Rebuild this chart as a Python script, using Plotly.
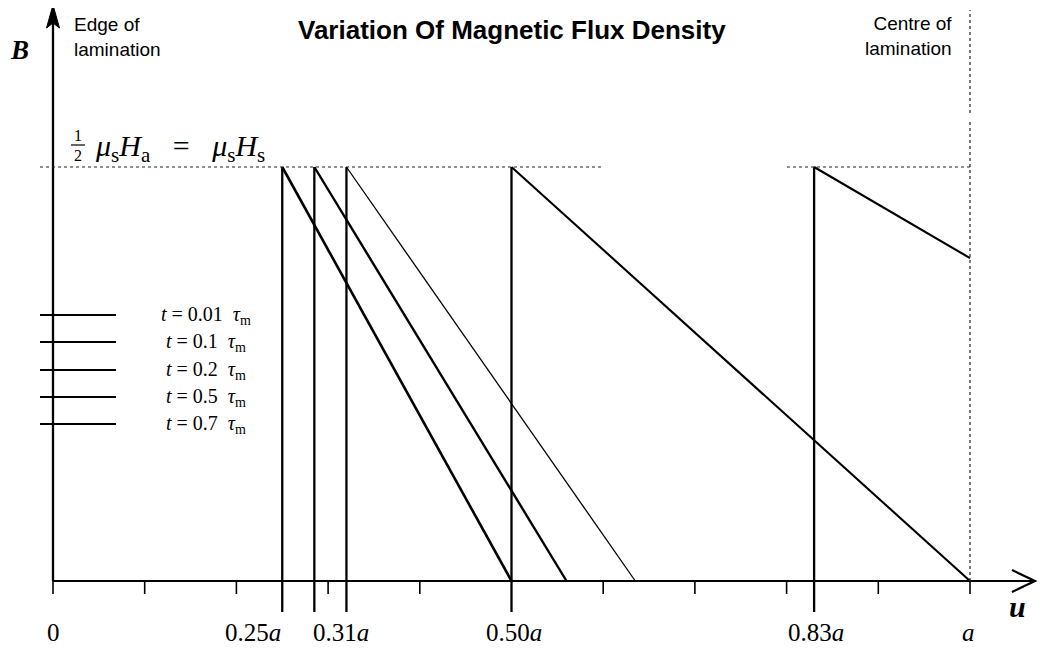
import plotly.graph_objects as go

# ---------------- data ----------------
series_labels = ["0.01", "0.1", "0.2", "0.5", "0.7"]          # t / tau_m
front_u = [0.25, 0.285, 0.32, 0.50, 0.83]                     # position of flux front (fraction of a)
end_u = [0.50, 0.56, 0.635, 1.0, 1.0]                         # where the B line ends
end_B = [0.0, 0.0, 0.0, 0.0, 0.78]                            # B at end (fraction of saturation)
tick_vals = [0, 0.25, 0.31, 0.50, 0.83, 1.0]
tick_text = ["0", "0.25<i>a</i>", "0.31<i>a</i>", "0.50<i>a</i>", "0.83<i>a</i>", "<i>a</i>"]
minor_ticks = [0.0, 0.1, 0.2, 0.3, 0.4, 0.6, 0.7, 0.8, 0.9, 1.0]

# ---------------- styling / geometry ----------------
BODY = 8                       # default page margin of the html body
W, H = 1051 - 2 * BODY, 655 - 2 * BODY
X0PX, X1PX = 53, 970           # page pixels of u=0 and u=a
Y0PX, Y1PX = 581, 167          # page pixels of B=0 and B=Bs
SX = X1PX - X0PX
SY = Y0PX - Y1PX
def ux(px):  # page pixel -> data x
    return (px - X0PX) / SX
def uy(py):  # page pixel -> data y
    return (Y0PX - py) / SY

tick_label_shift = [0, -29, 4, 2, 2, -2]
diag_width = [2.6, 2.4, 1.3, 2.1, 2.1]
serif = "Liberation Serif, Times New Roman, serif"
sans = "Liberation Sans, Arial, sans-serif"

fig = go.Figure()

# series
for i in range(len(series_labels)):
    f = front_u[i]
    fig.add_trace(go.Scatter(x=[f, f], y=[uy(612), 1.0], mode="lines",
                             line=dict(color="black", width=2.3), showlegend=False,
                             hoverinfo="skip"))
    fig.add_trace(go.Scatter(x=[f, end_u[i]], y=[1.0, end_B[i]], mode="lines",
                             line=dict(color="black", width=diag_width[i]),
                             name="t = " + series_labels[i], showlegend=False))

# legend samples
legend_y_px = [315, 342, 370, 397, 424]
for i, lab in enumerate(series_labels):
    yy = uy(legend_y_px[i])
    fig.add_trace(go.Scatter(x=[ux(40), ux(116)], y=[yy, yy], mode="lines",
                             line=dict(color="black", width=1.8), showlegend=False,
                             hoverinfo="skip"))
    fig.add_annotation(x=ux(206), y=yy, xref="x", yref="y", xanchor="center", yanchor="middle",
                       text="<i>t</i> = " + lab + "&nbsp; <i>τ</i><sub>m</sub>", showarrow=False,
                       font=dict(family=serif, size=20, color="black"))

shapes = []
# axes
shapes.append(dict(type="line", x0=0, y0=0, x1=0, y1=uy(20), line=dict(color="black", width=2.3)))
shapes.append(dict(type="path",
                   path=f"M {ux(53)} {uy(5)} L {ux(46.5)} {uy(28)} L {ux(53)} {uy(23)} L {ux(59.5)} {uy(28)} Z",
                   fillcolor="black", line=dict(color="black", width=1)))
shapes.append(dict(type="line", x0=0, y0=0, x1=ux(1034), y1=0, line=dict(color="black", width=2.2)))
shapes.append(dict(type="path",
                   path=f"M {ux(1012)} {uy(570)} L {ux(1035)} {uy(581)} L {ux(1012)} {uy(592)}",
                   line=dict(color="black", width=2.2)))
# minor ticks
for m in minor_ticks:
    shapes.append(dict(type="line", x0=m, x1=m, y0=0, y1=uy(594), line=dict(color="black", width=1.6)))
# dotted guides
dot = dict(color="#222222", width=1.2, dash="dot")
shapes.append(dict(type="line", x0=ux(40), x1=ux(604), y0=1, y1=1, line=dot))
shapes.append(dict(type="line", x0=ux(787), x1=1.0, y0=1, y1=1, line=dot))
shapes.append(dict(type="line", x0=1.0, x1=1.0, y0=0, y1=uy(122), line=dot))
shapes.append(dict(type="line", x0=1.0, x1=1.0, y0=uy(113), y1=uy(10), line=dot))
# fraction bar
shapes.append(dict(type="line", x0=ux(71), x1=ux(85), y0=uy(145), y1=uy(145),
                   line=dict(color="black", width=1.2)))
fig.update_layout(shapes=shapes)

# tick labels
for v, t, s in zip(tick_vals, tick_text, tick_label_shift):
    fig.add_annotation(x=v, y=uy(632), xref="x", yref="y", text=t, showarrow=False,
                       xanchor="center", yanchor="middle", xshift=s, borderpad=0,
                       font=dict(family=serif, size=25, color="black"))

# axis labels
fig.add_annotation(x=ux(19), y=uy(50), text="<b><i>B</i></b>", showarrow=False,
                   font=dict(family=serif, size=27, color="black"))
fig.add_annotation(x=ux(1017), y=uy(606), text="<b><i>u</i></b>", showarrow=False,
                   font=dict(family=serif, size=30, color="black"))

# title and region notes
fig.add_annotation(x=ux(512), y=uy(30), text="<b>Variation Of Magnetic Flux Density</b>",
                   showarrow=False, font=dict(family=sans, size=26, color="black"))
fig.add_annotation(x=ux(72), y=uy(37), xanchor="left", yanchor="middle", align="left",
                   text="Edge of<br>lamination", showarrow=False,
                   font=dict(family=sans, size=19, color="black"))
fig.add_annotation(x=ux(954), y=uy(36), xanchor="right", yanchor="middle", align="right",
                   text="Centre of<br>lamination", showarrow=False,
                   font=dict(family=sans, size=19, color="black"))

# saturation formula
fig.add_annotation(x=ux(78), y=uy(135), text="1", showarrow=False,
                   font=dict(family=serif, size=16, color="black"))
fig.add_annotation(x=ux(78), y=uy(155), text="2", showarrow=False,
                   font=dict(family=serif, size=16, color="black"))
fig.add_annotation(x=ux(93), y=uy(148), xanchor="left", yanchor="middle",
                   text="<i>μ</i><sub>s</sub><i>H</i><sub>a</sub>&nbsp;&nbsp; = &nbsp;&nbsp;<i>μ</i><sub>s</sub><i>H</i><sub>s</sub>",
                   showarrow=False, font=dict(family=serif, size=30, color="black"))

fig.update_layout(
    width=W, height=H, autosize=False,
    margin=dict(l=0, r=0, t=0, b=0, pad=0),
    paper_bgcolor="white", plot_bgcolor="white",
    xaxis=dict(range=[ux(BODY), ux(BODY + W)], visible=False, fixedrange=True),
    yaxis=dict(range=[uy(BODY + H), uy(BODY)], visible=False, fixedrange=True),
    showlegend=False,
)

fig.write_html("out.html")
